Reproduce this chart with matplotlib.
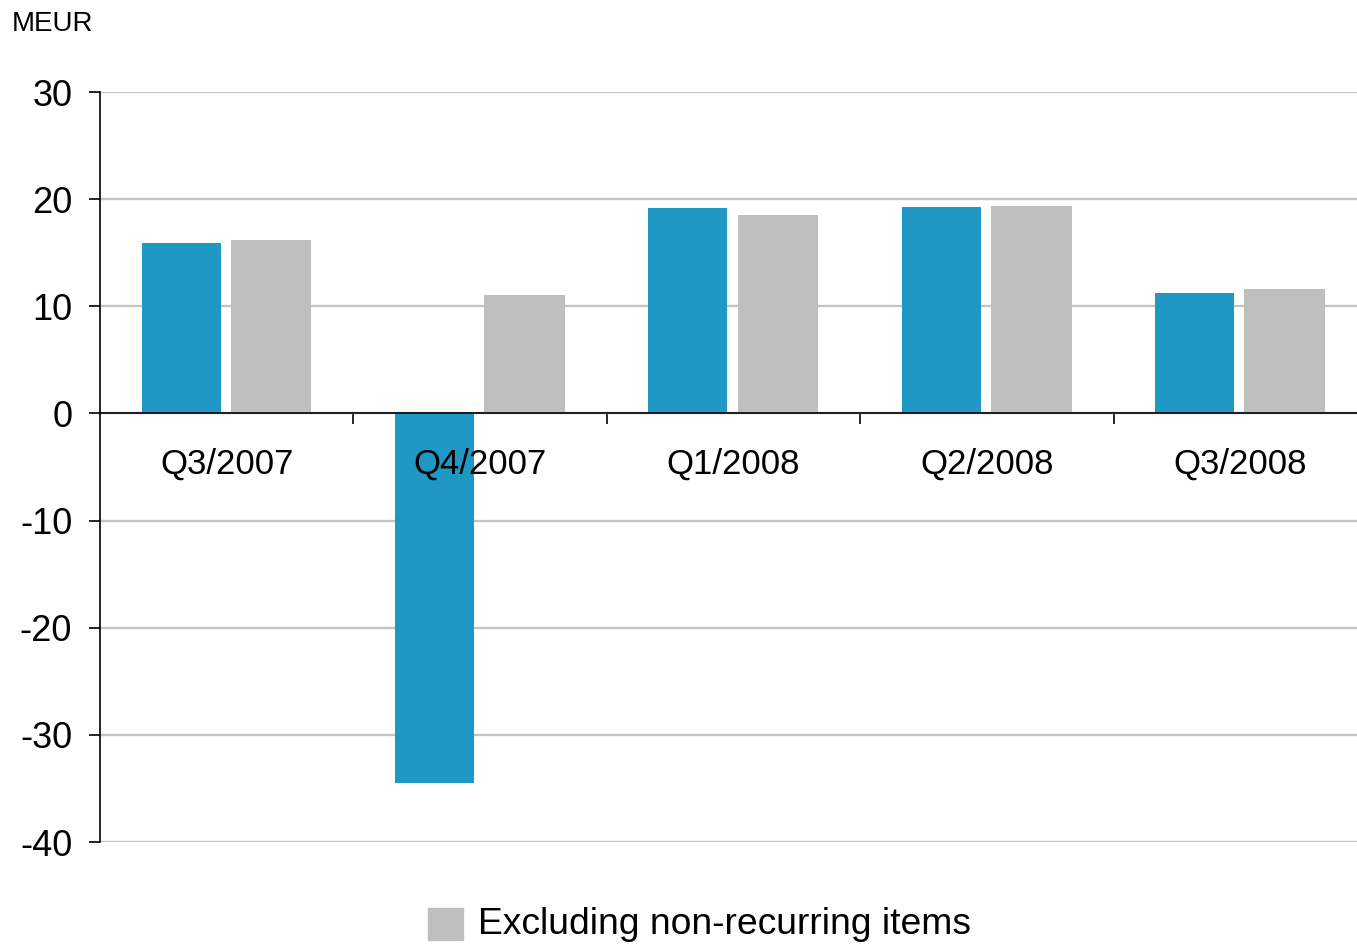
import matplotlib.pyplot as plt
from matplotlib.patches import Rectangle

plt.rcParams['font.family'] = ['Liberation Sans', 'DejaVu Sans']
plt.rcParams['axes.unicode_minus'] = False

quarters = ['Q3/2007', 'Q4/2007', 'Q1/2008', 'Q2/2008', 'Q3/2008']
reported = [15.9, -34.5, 19.2, 19.3, 11.25]
excl_nonrecurring = [16.2, 11.1, 18.5, 19.4, 11.6]

blue = '#1f98c5'
grey = '#bfbfbf'

fig = plt.figure(figsize=(13.57, 9.47), dpi=100)
ax = fig.add_axes([100 / 1357, 1 - 842 / 947, 1267 / 1357, 750 / 947])

x = list(range(len(quarters)))
w = 0.312
ax.bar([i - 0.18 for i in x], reported, width=w, color=blue, zorder=3)
ax.bar([i + 0.175 for i in x], excl_nonrecurring, width=0.318, color=grey, zorder=3)

ax.set_xlim(-0.5, len(quarters) - 0.5)
ax.set_ylim(-40, 30)
ax.set_yticks(range(-40, 31, 10))
ax.yaxis.grid(True, color='#c4c4c4', linewidth=1.7, zorder=0)
ax.tick_params(axis='y', direction='out', length=8, width=1.2, labelsize=26, pad=12)

# zero line with ticks between quarters
for s in ['top', 'right']:
    ax.spines[s].set_visible(False)
ax.spines['bottom'].set_position(('data', 0))
ax.spines['bottom'].set_zorder(4)
ax.spines['left'].set_linewidth(1.2)
ax.spines['bottom'].set_linewidth(1.2)
ax.set_xticks([i + 0.5 for i in x[:-1]])
ax.set_xticklabels([])
ax.tick_params(axis='x', direction='out', length=8, width=1.2)

for i, q in enumerate(quarters):
    ax.text(i, -4.75, q, ha='center', va='center', fontsize=25, zorder=5)

fig.text(12 / 1357, 1 - 24 / 947, 'MEUR', fontsize=20, ha='left', va='center')

# legend
fig.patches.append(Rectangle((428 / 1357, 1 - 940 / 947), 35 / 1357, 32 / 947,
                             transform=fig.transFigure, color=grey))
fig.text(478 / 1357, 1 - 924 / 947, 'Excluding non-recurring items', fontsize=26.8,
         ha='left', va='center')

fig.savefig('out.png', dpi=100)
